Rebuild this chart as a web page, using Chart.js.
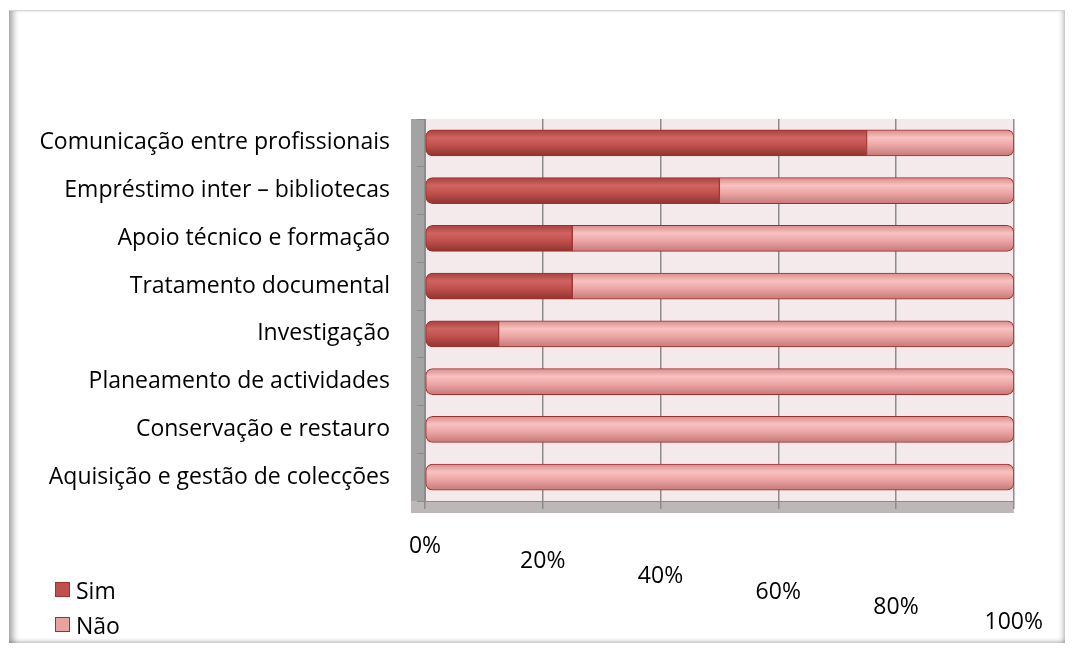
<!DOCTYPE html>
<html>
<head>
<meta charset="utf-8">
<script src="https://cdn.jsdelivr.net/npm/chart.js@4.4.1/dist/chart.umd.min.js"></script>
<style>
  html, body { margin: 0; padding: 0; background: #fff; }
  #wrap { position: relative; width: 1073px; height: 649px; overflow: hidden; }
  .frame {
    position: absolute; left: 9px; top: 10px; width: 1056px; height: 632px;
    border-top: 1px solid #d4d4d4;
    box-shadow: inset 8px 0 6px -4px rgba(0,0,0,0.35), inset -5px 0 5px -3px rgba(0,0,0,0.25), inset 0 -4px 4px -2px rgba(0,0,0,0.2);
  }
  canvas { position: absolute; left: 0; top: 0; }
  .legend { position: absolute; left: 55px; top: 572px; font: 23px "Open Sans", sans-serif; color: #000; }
  .legend div { display: flex; align-items: center; height: 35px; }
  .legend span.box { width: 13px; height: 13px; margin-right: 6px; border: 1px solid #a0302d; }
</style>
</head>
<body>
<div id="wrap">
  <div class="frame"></div>
  <canvas id="chart" width="1073" height="649"></canvas>
  <div class="legend" id="legend"></div>
</div>
<script>
'use strict';

// categories, top to bottom
const categories = [
  'Comunicação entre profissionais',
  'Empréstimo inter – bibliotecas',
  'Apoio técnico e formação',
  'Tratamento documental',
  'Investigação',
  'Planeamento de actividades',
  'Conservação e restauro',
  'Aquisição e gestão de colecções'
];
const simValues = [75, 50, 25, 25, 12.5, 0, 0, 0];
const naoValues = [25, 50, 75, 75, 87.5, 100, 100, 100];
const seriesNames = ['Sim', 'Não'];
const xTicks = [0, 20, 40, 60, 80, 100];
const xTickLabels = ['0%', '20%', '40%', '60%', '80%', '100%'];

const FONT = '"Open Sans", Lato, sans-serif';
const BAR_H = 26;

// cylinder-ish shading for each bar
function shade(stops) {
  return (c) => {
    const chart = c.chart;
    if (!chart.chartArea || c.dataIndex === undefined) return stops[2];
    const y = chart.scales.y.getPixelForValue(c.dataIndex);
    const g = chart.ctx.createLinearGradient(0, y - BAR_H / 2, 0, y + BAR_H / 2);
    g.addColorStop(0, stops[0]);
    g.addColorStop(0.3, stops[1]);
    g.addColorStop(0.6, stops[2]);
    g.addColorStop(1, stops[3]);
    return g;
  };
}
const simShade = shade(['#a9403d', '#cf6461', '#c0504d', '#8f3330']);
const naoShade = shade(['#d88c8b', '#f8c2c1', '#eba5a4', '#c67978']);

const wallPlugin = {
  id: 'wall',
  beforeDraw(chart) {
    const { ctx, chartArea: a } = chart;
    ctx.save();
    ctx.fillStyle = '#f5eaeb';
    ctx.fillRect(a.left, a.top, a.right - a.left, a.bottom - a.top);
    ctx.fillStyle = '#a3a3a3';
    ctx.fillRect(a.left - 14, a.top, 14, a.bottom - a.top);
    ctx.fillStyle = '#bdb7b7';
    ctx.fillRect(a.left - 14, a.bottom, a.right - a.left + 14, 12);
    ctx.restore();
  }
};

const chart = new Chart(document.getElementById('chart'), {
  type: 'bar',
  data: {
    labels: categories,
    datasets: [
      {
        label: seriesNames[0], data: simValues,
        backgroundColor: simShade, borderColor: '#9c2f2c', borderWidth: 1,
        borderSkipped: false, barThickness: BAR_H,
        borderRadius: { topLeft: 7, bottomLeft: 7, topRight: 0, bottomRight: 0 }
      },
      {
        label: seriesNames[1], data: naoValues,
        backgroundColor: naoShade, borderColor: '#9c2f2c', borderWidth: 1,
        borderSkipped: false, barThickness: BAR_H,
        borderRadius: (c) => {
          const r = simValues[c.dataIndex] > 0 ? 0 : 7;
          return { topLeft: r, bottomLeft: r, topRight: 7, bottomRight: 7 };
        }
      }
    ]
  },
  options: {
    responsive: false,
    animation: false,
    indexAxis: 'y',
    layout: { padding: { top: 119, left: 20, right: 53, bottom: 0 } },
    plugins: { legend: { display: false }, tooltip: { enabled: false } },
    scales: {
      x: {
        stacked: true, min: 0, max: 100,
        afterBuildTicks: (s) => { s.ticks = xTicks.map(v => ({ value: v })); },
        afterFit: (s) => { s.height = 148; },
        grid: { color: '#8c8c8c', lineWidth: 1.5, tickLength: 8 },
        border: { color: '#8c8c8c' },
        ticks: {
          autoSkip: false, maxRotation: 0, padding: 30, color: '#000',
          font: { family: FONT, size: 23, lineHeight: 0.66 },
          // stagger labels down to the right like the tilted floor
          callback: (v, i) => Array(i).fill('').concat(xTickLabels[i])
        }
      },
      y: {
        stacked: true,
        afterFit: (s) => { s.width = 405; },
        grid: { drawOnChartArea: false, tickLength: 8, color: '#8c8c8c' },
        border: { color: '#8c8c8c' },
        ticks: { padding: 27, color: '#000', font: { family: FONT, size: 23 } }
      }
    }
  },
  plugins: [wallPlugin]
});

// legend, stacked at bottom left
const legendEl = document.getElementById('legend');
const legendColors = ['#c0504d', '#e6a3a2'];
legendEl.innerHTML = seriesNames.map((n, i) =>
  `<div><span class="box" style="background:${legendColors[i]}"></span>${n}</div>`).join('');
</script>
</body>
</html>
